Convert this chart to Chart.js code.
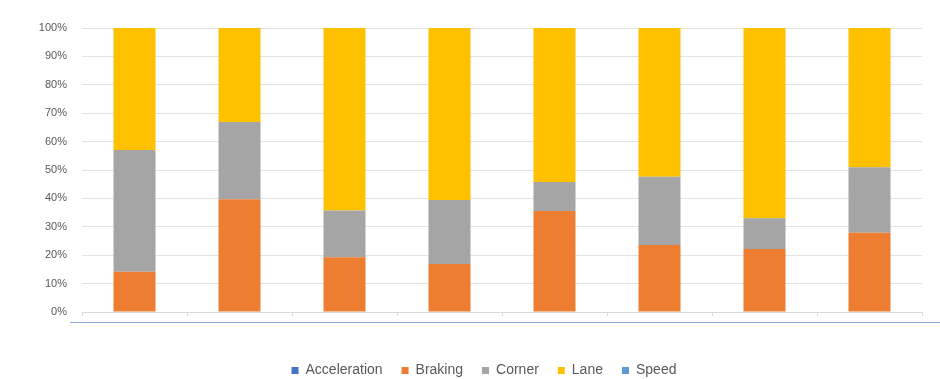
<!DOCTYPE html>
<html>
<head>
<meta charset="utf-8">
<script src="https://cdn.jsdelivr.net/npm/chart.js@4/dist/chart.umd.min.js"></script>
<style>
html,body{margin:0;padding:0;background:#fff;}
#wrap{width:940px;height:379px;}
</style>
</head>
<body>
<div id="wrap"><canvas id="c" width="940" height="379"></canvas></div>
<script>
const categories = ["", "", "", "", "", "", "", ""];
const acceleration = [0, 0, 0, 0, 0, 0, 0, 0];
const braking = [14.2, 39.7, 19.3, 16.9, 35.6, 23.6, 22.2, 27.9];
const corner = [42.8, 27.2, 16.4, 22.5, 10.2, 24.0, 10.8, 23.1];
const lane = [43.0, 33.1, 64.3, 60.6, 54.2, 52.4, 67.0, 49.0];
const speed = [0, 0, 0, 0, 0, 0, 0, 0];
const yTicks = [0, 10, 20, 30, 40, 50, 60, 70, 80, 90, 100];

const PLOT_BOTTOM = 312;
const LEGEND_CENTER_Y = 366;
const LEGEND_CENTER_X = 484;

const decor = {
  id: 'decor',
  afterLayout(chart) {
    const lg = chart.legend;
    if (!lg) return;
    const dy = LEGEND_CENTER_Y - (lg.top + lg.height / 2);
    lg.top += dy; lg.bottom += dy;
    const dx = LEGEND_CENTER_X - (lg.left + lg.right) / 2;
    lg.left += dx; lg.right += dx;
  },
  afterDraw(chart) {
    const ctx = chart.ctx, a = chart.chartArea;
    ctx.save();
    ctx.strokeStyle = 'rgb(143,170,220)';
    ctx.lineWidth = 1;
    ctx.beginPath();
    ctx.moveTo(70, a.bottom + 10.5);
    ctx.lineTo(940, a.bottom + 10.5);
    ctx.stroke();
    ctx.restore();
  }
};

new Chart(document.getElementById('c'), {
  type: 'bar',
  data: {
    labels: categories,
    datasets: [
      {label: 'Acceleration', data: acceleration, backgroundColor: '#4472C4'},
      {label: 'Braking', data: braking, backgroundColor: '#ED7D31'},
      {label: 'Corner', data: corner, backgroundColor: '#A5A5A5'},
      {label: 'Lane', data: lane, backgroundColor: '#FFC000'},
      {label: 'Speed', data: speed, backgroundColor: '#5B9BD5'}
    ]
  },
  options: {
    responsive: false,
    animation: false,
    devicePixelRatio: 1,
    layout: {padding: {left: 0, right: 18, top: 28, bottom: 0}},
    datasets: {bar: {categoryPercentage: 1, barPercentage: 0.4, borderWidth: 0}},
    plugins: {
      tooltip: {enabled: false},
      legend: {
        position: 'bottom',
        labels: {
          boxWidth: 7, boxHeight: 7, padding: 19,
          color: '#595959',
          font: {family: 'Liberation Sans, Arial, sans-serif', size: 14}
        }
      }
    },
    scales: {
      x: {
        stacked: true,
        grid: {offset: true, drawOnChartArea: false, drawTicks: true, tickLength: 4, color: '#d9d9d9'},
        border: {display: true, color: '#d9d9d9'},
        ticks: {display: false},
        afterFit(s) {
          const lh = s.chart.legend ? s.chart.legend.height : 0;
          s.height = 379 - PLOT_BOTTOM - lh;
        }
      },
      y: {
        stacked: true,
        min: 0, max: 100,
        afterBuildTicks(s) { s.ticks = yTicks.map(v => ({value: v})); },
        grid: {color: '#e3e3e3', drawTicks: false},
        border: {display: false},
        ticks: {
          padding: 15,
          color: '#595959',
          font: {family: 'Liberation Sans, Arial, sans-serif', size: 11},
          callback: v => v + '%'
        },
        afterFit(s) { s.width = 82; }
      }
    }
  },
  plugins: [decor]
});
</script>
</body>
</html>
